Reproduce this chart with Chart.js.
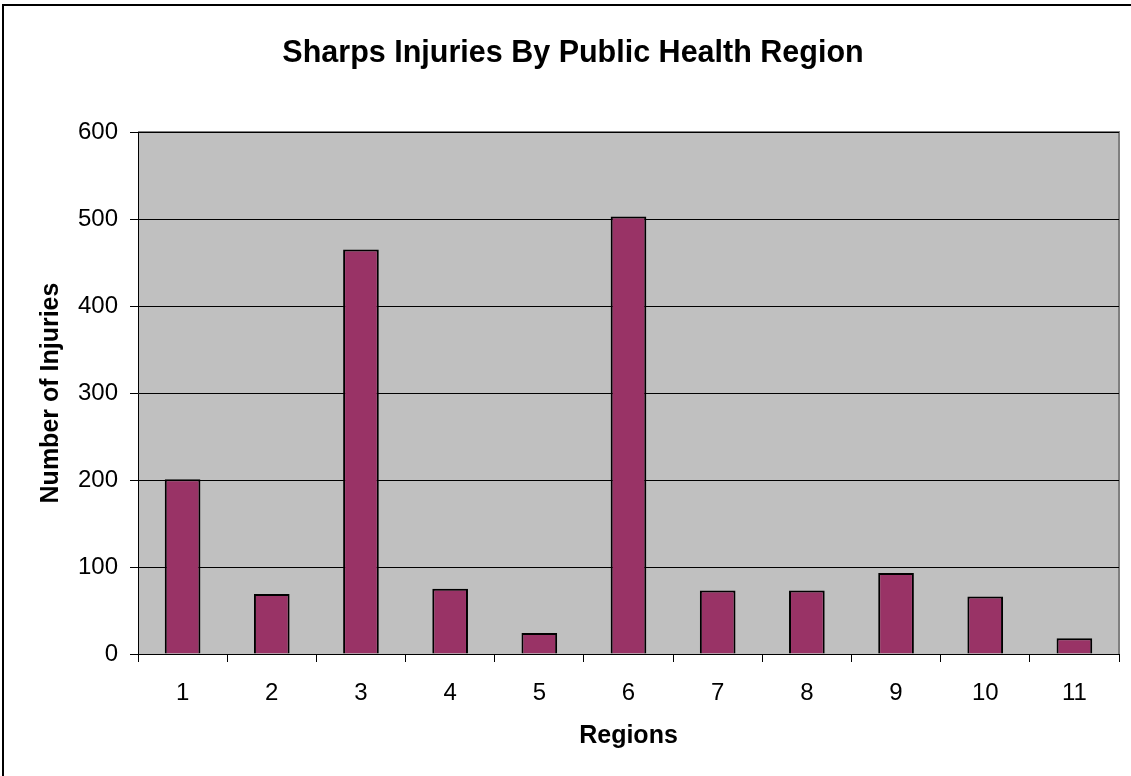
<!DOCTYPE html>
<html>
<head>
<meta charset="utf-8">
<script src="https://cdn.jsdelivr.net/npm/chart.js@4/dist/chart.umd.min.js"></script>
<style>
  html, body { margin: 0; padding: 0; background: #fff; overflow: hidden; }
  #wrap { position: absolute; left: 0; top: 0; width: 1131px; height: 776px; }
  #frame { position: absolute; left: 2px; top: 4px; width: 1200px; height: 900px;
           border-left: 2px solid #000; border-top: 2px solid #000; }
</style>
</head>
<body>
<div id="frame"></div>
<div id="wrap"><canvas id="barChart"></canvas></div>
<script>
// data
const regions = ['1', '2', '3', '4', '5', '6', '7', '8', '9', '10', '11'];
const injuries = [201, 69, 465, 75, 24, 503, 73, 73, 93, 66, 18];
const yTicks = [0, 100, 200, 300, 400, 500, 600];
const chartTitle = 'Sharps Injuries By Public Health Region';

const fontFamily = '"Liberation Sans", Arial, sans-serif';

// grey plot area with a thin grey frame on top and right
const plotBackground = {
    id: 'plotBackground',
    beforeDraw(chart) {
        const { ctx, chartArea: a } = chart;
        ctx.save();
        ctx.fillStyle = '#c0c0c0';
        ctx.fillRect(a.left, a.top, a.right - a.left, a.bottom - a.top);
        ctx.strokeStyle = '#808080';
        ctx.lineWidth = 2;
        ctx.beginPath();
        ctx.moveTo(a.left, a.top);
        ctx.lineTo(a.right, a.top);
        ctx.lineTo(a.right, a.bottom);
        ctx.stroke();
        ctx.restore();
    }
};

// the title in the original is not centred on the canvas
const offsetTitle = {
    id: 'offsetTitle',
    afterDraw(chart) {
        const ctx = chart.ctx;
        ctx.save();
        ctx.fillStyle = '#000';
        ctx.font = 'bold 30.5px ' + fontFamily;
        ctx.textAlign = 'center';
        ctx.textBaseline = 'middle';
        ctx.fillText(chartTitle, 573, 54);
        ctx.restore();
    }
};

const ctx = document.getElementById('barChart').getContext('2d');
new Chart(ctx, {
    type: 'bar',
    data: {
        labels: regions,
        datasets: [{
            label: 'Sharps Injuries',
            data: injuries,
            backgroundColor: '#993366',
            borderColor: '#000000',
            borderWidth: 2,
            borderSkipped: 'bottom',
            barPercentage: 0.4,
            categoryPercentage: 1.0
        }]
    },
    options: {
        responsive: true,
        maintainAspectRatio: false,
        animation: false,
        layout: { padding: { left: 0, right: 12, top: 132, bottom: 0 } },
        plugins: {
            legend: { display: false },
            tooltip: { enabled: false },
            title: { display: false }
        },
        scales: {
            x: {
                grid: {
                    display: true,
                    drawOnChartArea: false,
                    drawTicks: true,
                    tickLength: 8,
                    offset: true,
                    color: '#000'
                },
                border: { display: true, color: '#000', width: 1 },
                ticks: {
                    color: '#000',
                    padding: 17,
                    font: { family: fontFamily, size: 24 }
                },
                title: {
                    display: true,
                    text: 'Regions',
                    color: '#000',
                    font: { family: fontFamily, size: 25, weight: 'bold', lineHeight: 1.2 },
                    padding: { top: 0, bottom: 25 }
                },
                afterFit(scale) { scale.height = 122; }
            },
            y: {
                min: 0,
                max: 600,
                afterBuildTicks(scale) {
                    scale.ticks = yTicks.map(v => ({ value: v }));
                },
                grid: {
                    color: '#000',
                    lineWidth: 1,
                    drawTicks: true,
                    tickLength: 8
                },
                border: { display: true, color: '#000', width: 1 },
                ticks: {
                    color: '#000',
                    padding: 12,
                    font: { family: fontFamily, size: 24 }
                },
                title: {
                    display: true,
                    text: 'Number of Injuries',
                    color: '#000',
                    font: { family: fontFamily, size: 25, weight: 'bold', lineHeight: 1.2 },
                    padding: { top: 36, bottom: 0 }
                },
                afterFit(scale) { scale.width = 138; }
            }
        }
    },
    plugins: [plotBackground, offsetTitle]
});
</script>
</body>
</html>
